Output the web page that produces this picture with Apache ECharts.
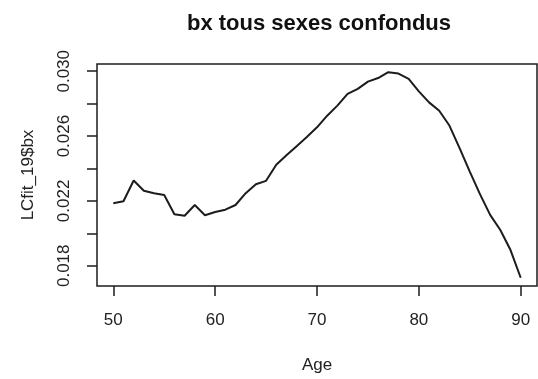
<!DOCTYPE html>
<html>
<head>
<meta charset="utf-8">
<title>bx tous sexes confondus</title>
<script src="https://cdn.jsdelivr.net/npm/echarts@6/dist/echarts.min.js"></script>
<style>
  html, body { margin: 0; padding: 0; background: #fff; }
  #chart { width: 538px; height: 379px; }
</style>
</head>
<body>
<div id="chart"></div>
<script>
// Lee-Carter bx coefficients by age (both sexes combined)
const ages = [50, 51, 52, 53, 54, 55, 56, 57, 58, 59,
              60, 61, 62, 63, 64, 65, 66, 67, 68, 69,
              70, 71, 72, 73, 74, 75, 76, 77, 78, 79,
              80, 81, 82, 83, 84, 85, 86, 87, 88, 89, 90];
const bx = [0.02186, 0.02198, 0.02326, 0.02263, 0.02248, 0.02237, 0.02118, 0.02109, 0.02175, 0.02112,
            0.02132, 0.02146, 0.02175, 0.02248, 0.02303, 0.02324, 0.02423, 0.02482, 0.02538, 0.02594,
            0.02654, 0.02726, 0.02788, 0.02860, 0.02891, 0.02936, 0.02958, 0.02994, 0.02986, 0.02953,
            0.02876, 0.02808, 0.02756, 0.02665, 0.02526, 0.02381, 0.02242, 0.02114, 0.02021, 0.01897, 0.01726];

const xTicks = [50, 60, 70, 80, 90];
const yTicks = [0.018, 0.020, 0.022, 0.024, 0.026, 0.028, 0.030];
const yTickLabels = [0.018, 0.022, 0.026, 0.030];

const titleText = 'bx tous sexes confondus';
const xName = 'Age';
const yName = 'LCfit_19$bx';

// base-graphics style axis ranges: data range extended by 4% on each side
function paddedRange(values) {
  const lo = Math.min(...values), hi = Math.max(...values);
  const pad = (hi - lo) * 0.04;
  return [lo - pad, hi + pad];
}
const [xMin, xMax] = paddedRange(ages);
const [yMin, yMax] = paddedRange(bx);

const font = '"Liberation Sans", Arial, sans-serif';
const ink = '#1c1c1c';

const chart = echarts.init(document.getElementById('chart'), null, { renderer: 'canvas' });
chart.setOption({
  backgroundColor: '#ffffff',
  animation: false,
  title: {
    text: titleText,
    left: 314,
    top: 8,
    textAlign: 'center',
    textStyle: { fontFamily: font, fontSize: 22, fontWeight: 'bold', color: '#111' }
  },
  grid: {
    left: 97, right: 1, top: 64, bottom: 93,
    show: true, borderColor: ink, borderWidth: 1.5, backgroundColor: 'transparent'
  },
  xAxis: {
    type: 'value',
    min: xMin, max: xMax,
    name: xName,
    nameLocation: 'middle',
    nameGap: 71,
    nameTextStyle: { fontFamily: font, fontSize: 17, color: '#222' },
    axisLine: { show: false },
    splitLine: { show: false },
    axisTick: { show: true, inside: false, length: 10, customValues: xTicks,
                lineStyle: { color: ink, width: 1.5 } },
    axisLabel: { customValues: xTicks, margin: 26, fontFamily: font, fontSize: 17, color: '#222' }
  },
  yAxis: {
    type: 'value',
    min: yMin, max: yMax,
    name: yName,
    nameLocation: 'middle',
    nameRotate: 90,
    nameGap: 60,
    nameTextStyle: { fontFamily: font, fontSize: 17, color: '#222' },
    axisLine: { show: false },
    splitLine: { show: false },
    axisTick: { show: true, inside: false, length: 10, customValues: yTicks,
                lineStyle: { color: ink, width: 1.5 } },
    axisLabel: {
      customValues: yTickLabels,
      rotate: 90,
      margin: 24,
      fontFamily: font, fontSize: 17, color: '#222',
      formatter: v => v.toFixed(3)
    }
  },
  series: [{
    type: 'line',
    data: ages.map((a, i) => [a, bx[i]]),
    showSymbol: false,
    smooth: false,
    lineStyle: { color: ink, width: 2 }
  }]
});
</script>
</body>
</html>
